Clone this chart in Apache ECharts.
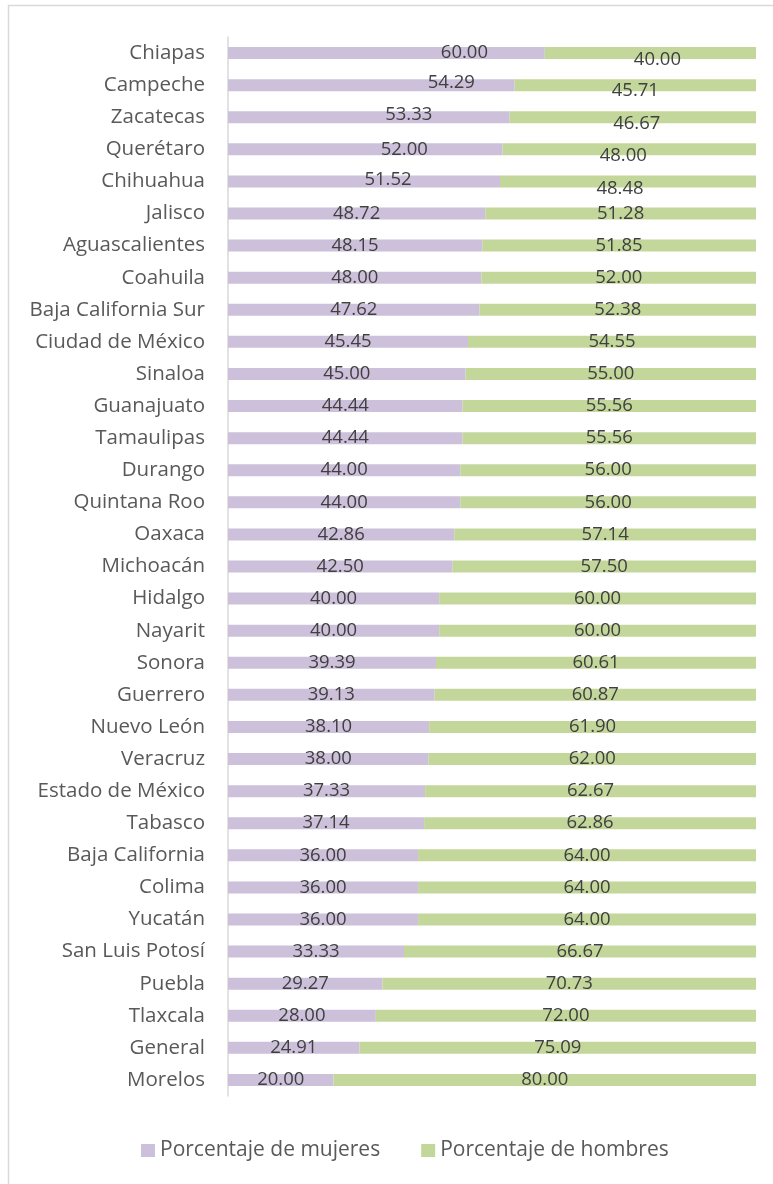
<!DOCTYPE html>
<html>
<head>
<meta charset="utf-8">
<script src="https://cdn.jsdelivr.net/npm/echarts@6/dist/echarts.min.js"></script>
<style>
  html, body { margin: 0; padding: 0; background: #fff; }
  #main { width: 773px; height: 1184px; }
</style>
</head>
<body>
<div id="main"></div>
<script>
// estados ordenados de mayor a menor porcentaje de mujeres
var estados = [
    'Chiapas', 'Campeche', 'Zacatecas', 'Querétaro', 'Chihuahua', 'Jalisco',
    'Aguascalientes', 'Coahuila', 'Baja California Sur', 'Ciudad de México',
    'Sinaloa', 'Guanajuato', 'Tamaulipas', 'Durango', 'Quintana Roo', 'Oaxaca',
    'Michoacán', 'Hidalgo', 'Nayarit', 'Sonora', 'Guerrero', 'Nuevo León',
    'Veracruz', 'Estado de México', 'Tabasco', 'Baja California', 'Colima',
    'Yucatán', 'San Luis Potosí', 'Puebla', 'Tlaxcala', 'General', 'Morelos'
];
var mujeres = [
    60.00, 54.29, 53.33, 52.00, 51.52, 48.72, 48.15, 48.00, 47.62, 45.45,
    45.00, 44.44, 44.44, 44.00, 44.00, 42.86, 42.50, 40.00, 40.00, 39.39,
    39.13, 38.10, 38.00, 37.33, 37.14, 36.00, 36.00, 36.00, 33.33, 29.27,
    28.00, 24.91, 20.00
];
var hombres = [
    40.00, 45.71, 46.67, 48.00, 48.48, 51.28, 51.85, 52.00, 52.38, 54.55,
    55.00, 55.56, 55.56, 56.00, 56.00, 57.14, 57.50, 60.00, 60.00, 60.61,
    60.87, 61.90, 62.00, 62.67, 62.86, 64.00, 64.00, 64.00, 66.67, 70.73,
    72.00, 75.09, 80.00
];

// etiquetas movidas a mano en el original (solo estilo)
var desplazaMujeres = { 'Chiapas': [78, 0], 'Campeche': [80, -2], 'Zacatecas': [40, -2], 'Querétaro': [39, 0], 'Chihuahua': [24, -2] };
var desplazaHombres = { 'Chiapas': [7, 7], 'Campeche': [0, 6], 'Zacatecas': [4, 7], 'Querétaro': [-6, 6], 'Chihuahua': [-8, 7] };

var fuente = 'Open Sans';
var myChart = echarts.init(document.getElementById('main'));

var etiqueta = {
    show: true,
    position: 'inside',
    color: '#404040',
    fontSize: 18.5,
    fontFamily: fuente,
    formatter: function (p) { return p.value.toFixed(2); }
};

function armar(valores, desplaza) {
    return valores.map(function (v, i) {
        var d = { value: v };
        if (desplaza[estados[i]]) {
            d.label = { offset: desplaza[estados[i]] };
        }
        return d;
    });
}

myChart.setOption({
    animation: false,
    graphic: [{
        type: 'rect',
        shape: { x: 8.5, y: 5.5, width: 800, height: 1200 },
        style: { fill: 'none', stroke: '#d9d9d9', lineWidth: 1.5 },
        silent: true
    }],
    legend: {
        bottom: 18,
        left: 136,
        itemWidth: 14,
        itemHeight: 13,
        itemGap: 41,
        icon: 'rect',
        textStyle: { color: '#595959', fontSize: 21, fontFamily: fuente },
        data: ['Porcentaje de mujeres', 'Porcentaje de hombres']
    },
    grid: {
        left: 228,
        right: 17,
        top: 37,
        bottom: 88
    },
    xAxis: {
        type: 'value',
        min: 0,
        max: 100,
        show: false
    },
    yAxis: {
        type: 'category',
        inverse: true,
        data: estados,
        axisLine: { lineStyle: { color: '#d9d9d9', width: 1.5 } },
        axisTick: { show: false },
        axisLabel: {
            color: '#595959',
            fontSize: 20.5,
            fontFamily: fuente,
            margin: 23,
            padding: [3, 0, 0, 0]
        }
    },
    series: [
        {
            name: 'Porcentaje de mujeres',
            type: 'bar',
            stack: 'total',
            barWidth: 12,
            data: armar(mujeres, desplazaMujeres),
            itemStyle: { color: '#ccc0da' },
            label: etiqueta
        },
        {
            name: 'Porcentaje de hombres',
            type: 'bar',
            stack: 'total',
            barWidth: 12,
            data: armar(hombres, desplazaHombres),
            itemStyle: { color: '#c4d79b' },
            label: etiqueta
        }
    ]
});
</script>
</body>
</html>
